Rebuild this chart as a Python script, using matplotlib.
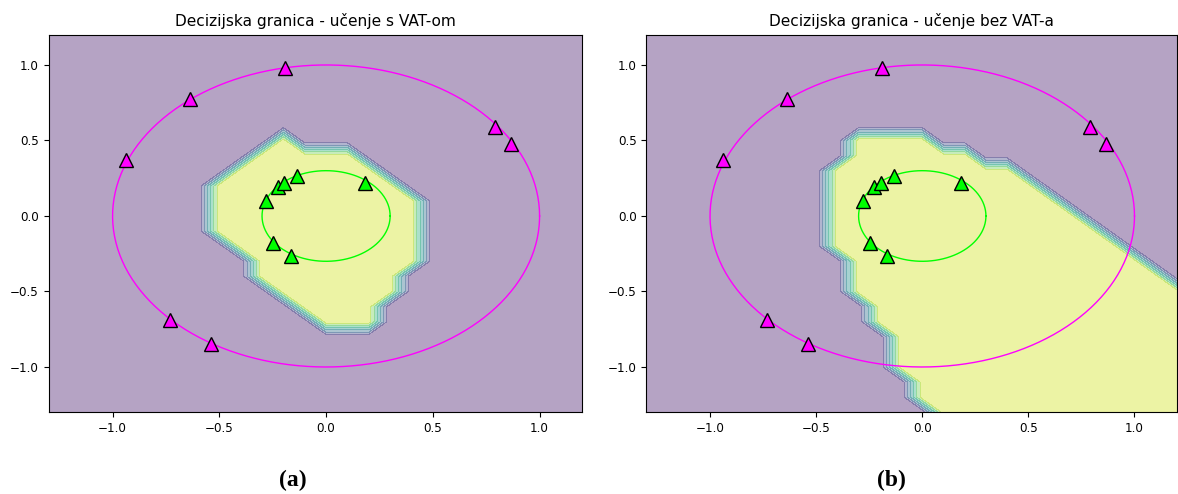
import numpy as np
import matplotlib
matplotlib.use("Agg")
import matplotlib.pyplot as plt

# training points: outer ring (class 0) and inner ring (class 1)
outer_x = [-0.937, -0.637, -0.192, 0.792, 0.867, -0.731, -0.539]
outer_y = [0.371, 0.775, 0.980, 0.589, 0.477, -0.689, -0.848]
inner_x = [-0.281, -0.226, -0.195, -0.134, 0.183, -0.247, -0.164]
inner_y = [0.101, 0.194, 0.221, 0.265, 0.221, -0.181, -0.263]
ring_radii = [1.0, 0.3]

# predicted class 1 on the 0.1 grid: per grid row y, first and last x inside
vat_rows = [0.5, 0.4, 0.3, 0.2, 0.1, 0.0, -0.1, -0.2, -0.3, -0.4, -0.5, -0.6, -0.7]
vat_lo = [-0.2, -0.3, -0.4, -0.5, -0.5, -0.5, -0.5, -0.4, -0.3, -0.3, -0.2, -0.1, 0.0]
vat_hi = [-0.2, 0.1, 0.2, 0.3, 0.4, 0.4, 0.4, 0.4, 0.4, 0.3, 0.3, 0.2, 0.2]

novat_rows = [0.5, 0.4, 0.3, 0.2, 0.1, 0.0, -0.1, -0.2, -0.3, -0.4, -0.5, -0.6,
              -0.7, -0.8, -0.9, -1.0, -1.1, -1.2, -1.3]
novat_lo = [-0.3, -0.3, -0.4, -0.4, -0.4, -0.4, -0.4, -0.4, -0.3, -0.3, -0.3, -0.2,
            -0.2, -0.1, -0.1, -0.1, 0.0, 0.0, 0.1]
novat_hi = [0.0, 0.2, 0.4, 0.5, 0.6, 0.7, 0.8, 0.9, 1.0, 1.1, 1.2, 1.2,
            1.2, 1.2, 1.2, 1.2, 1.2, 1.2, 1.2]

titles = ["Decizijska granica - učenje s VAT-om", "Decizijska granica - učenje bez VAT-a"]
captions = ["(a)", "(b)"]

grid = np.arange(-13, 13) / 10.0
xx, yy = np.meshgrid(grid, grid)


def region(rows, lo, hi):
    Z = np.zeros(xx.shape)
    for y, a, b in zip(rows, lo, hi):
        i = np.argmin(np.abs(grid - y))
        Z[i] = ((grid >= a - 1e-9) & (grid <= b + 1e-9)).astype(float)
    return Z


Zs = [region(vat_rows, vat_lo, vat_hi), region(novat_rows, novat_lo, novat_hi)]

fig = plt.figure(figsize=(11.78, 4.94), dpi=100)
boxes = [[0.0412, 0.1654, 0.4531, 0.7642], [0.5487, 0.1654, 0.4504, 0.7642]]
cap_x = [0.2485, 0.7568]
t = np.linspace(0, 2 * np.pi, 300)

for k in range(2):
    ax = fig.add_axes(boxes[k])
    ax.contourf(xx, yy, Zs[k], levels=np.linspace(0, 1.05, 8), cmap="viridis", alpha=0.4)
    ax.plot(ring_radii[0] * np.cos(t), ring_radii[0] * np.sin(t), color="#ff00ff", lw=1)
    ax.plot(ring_radii[1] * np.cos(t), ring_radii[1] * np.sin(t), color="#00ff00", lw=1)
    ax.plot(outer_x, outer_y, "^", ms=9.5, mfc="#ff00ff", mec="black", mew=1)
    ax.plot(inner_x, inner_y, "^", ms=9.5, mfc="#00ff00", mec="black", mew=1)
    ax.set_xlim(-1.3, 1.2)
    ax.set_ylim(-1.3, 1.2)
    ax.set_xticks([-1.0, -0.5, 0.0, 0.5, 1.0])
    ax.set_yticks([-1.0, -0.5, 0.0, 0.5, 1.0])
    ax.tick_params(labelsize=8.6)
    ax.set_title(titles[k], fontsize=11.1)
    fig.text(cap_x[k], 0.028, captions[k], ha="center", va="center",
             family="Liberation Serif", weight="bold", fontsize=17)

fig.savefig("out.png", dpi=100)
